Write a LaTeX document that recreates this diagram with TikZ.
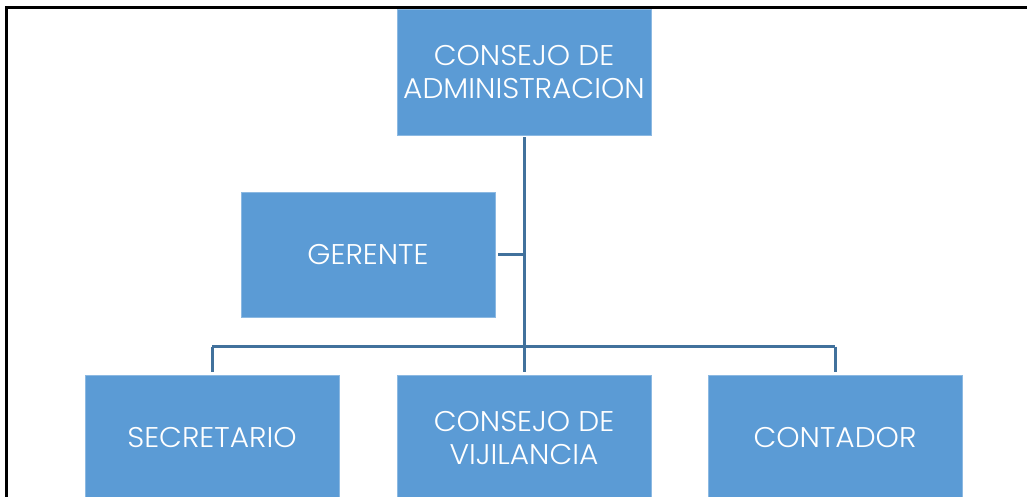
\documentclass[tikz,border=0pt]{standalone}
\usepackage{fontspec}
\setmainfont{Poppins Light}[FakeStretch=1.04]
\definecolor{boxblue}{HTML}{5B9BD5}
\definecolor{lineblue}{HTML}{41719C}
\begin{document}
\begin{tikzpicture}[x=1pt,y=-1pt,
  orgbox/.style={fill=boxblue, draw=boxblue!70!white, line width=0.6pt, minimum width=254pt, minimum height=126pt,
    text=white, align=center, inner sep=0pt, font=\fontsize{28.5}{33}\selectfont},
  conn/.style={draw=lineblue, line width=3pt}]
\useasboundingbox (0,0) rectangle (1027,497);
\clip (0,0) rectangle (1027,497);
\fill[white] (0,0) rectangle (1027,497);
\draw[line width=2.6pt, black] (1027,7.5) -- (6.5,7.5) -- (6.5,497);
\node[orgbox] (top) at (524,72) {CONSEJO DE\\ADMINISTRACION};
\node[orgbox, minimum height=125pt] (ger) at (368,254.5) {GERENTE};
\node[orgbox] (sec) at (212,438) {SECRETARIO};
\node[orgbox] (vij) at (524,438) {CONSEJO DE\\VIJILANCIA};
\node[orgbox] (cont) at (835,438) {CONTADOR};
\coordinate (j) at (524,346.5);
\draw[conn, shorten <=2pt, shorten >=3pt] (top.south) -- (vij.north);
\draw[conn, shorten <=3pt] (ger.east) -- (ger.east -| top.south);
\draw[conn, shorten >=3pt] (sec.north |- j) -- (sec.north);
\draw[conn, shorten >=3pt] (cont.north |- j) -- (cont.north);
\draw[conn] (sec.north |- j) -- (cont.north |- j);
\end{tikzpicture}
\end{document}
